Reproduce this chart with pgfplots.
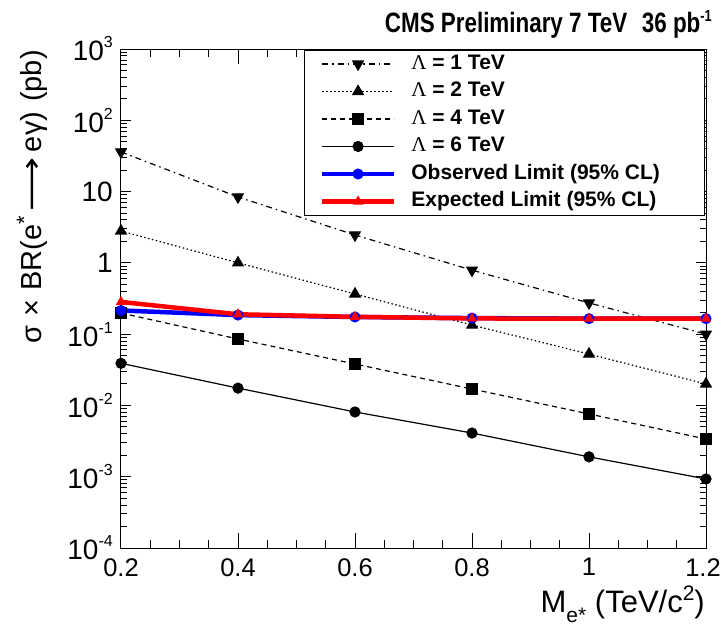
\documentclass[border=0pt]{standalone}
\usepackage{pgfplots}
\pgfplotsset{compat=1.18}
\usepackage{fontspec}
\setmainfont{Liberation Sans}
\newfontfamily\serifL{Liberation Serif}
\newfontfamily\condfont[FakeStretch=0.8]{Liberation Sans}
\newfontfamily\dejavu{DejaVu Sans}
\newcommand\tl[1]{10\raisebox{13pt}{\fontsize{16}{16}\selectfont #1}}
\newcommand\lam{{\serifL\mdseries Λ}}
\begin{document}
\begin{tikzpicture}
\useasboundingbox (-121pt,-77pt) rectangle (601pt,548pt);
\begin{axis}[
  at={(0pt,0pt)}, anchor=south west,
  scale only axis, width=585pt, height=499pt,
  ymode=log, xmin=0.2, xmax=1.2, ymin=1e-4, ymax=1e3,
  clip=false,
  xtick={0.2,0.4,0.6,0.8,1,1.2},
  xticklabels={0.2,0.4,0.6,0.8,1,1.2\kern6pt},
  minor x tick num=3,
  ytick={1e-4,1e-3,1e-2,1e-1,1,10,100,1000},
  yticklabels={\tl{-4},\tl{-3},\tl{-2},\tl{-1},1,10,\tl{2},\tl{3}},
  minor ytick={2e-4,3e-4,4e-4,5e-4,6e-4,7e-4,8e-4,9e-4,
               2e-3,3e-3,4e-3,5e-3,6e-3,7e-3,8e-3,9e-3,
               2e-2,3e-2,4e-2,5e-2,6e-2,7e-2,8e-2,9e-2,
               0.2,0.3,0.4,0.5,0.6,0.7,0.8,0.9,
               2,3,4,5,6,7,8,9,
               20,30,40,50,60,70,80,90,
               200,300,400,500,600,700,800,900},
  tick align=inside, tick pos=both,
  axis line style={line width=1pt},
  tick style={black, line width=1pt},
  xtick style={/pgfplots/major tick length=15pt, /pgfplots/minor tick length=8pt},
  ytick style={/pgfplots/major tick length=10pt, /pgfplots/minor tick length=6pt},
  yticklabel style={font=\fontsize{28}{28}\selectfont, inner sep=0pt, xshift=-8pt},
  xticklabel style={font=\fontsize{25.5}{25.5}\selectfont, inner sep=0pt, yshift=-10pt},
  legend style={at={(0.998,0.998)}, anchor=north east, draw=black, line width=1pt, fill=white,
    inner xsep=15pt, inner ysep=3.5pt, column sep=15pt, row sep=7.5pt,
    font=\fontsize{21}{21}\selectfont\bfseries,
    nodes={inner sep=0pt, text height=15pt, text depth=5pt}},
  legend cell align=left,
  legend image code/.code={\draw[mark repeat=2,mark phase=2,#1] plot coordinates {(0pt,0pt)(36pt,0pt)(72pt,0pt)};},
]
\addplot[black, line width=1.2pt, dash pattern=on 6pt off 4pt on 1.5pt off 4pt, mark=triangle*, mark size=6pt, mark options={solid, rotate=180}]
  coordinates {(0.2,36) (0.4,8.4) (0.6,2.46) (0.8,0.79) (1.0,0.274) (1.2,0.100)};
\addlegendentry{\makebox[278pt][l]{\lam{} = 1 TeV}}
\addplot[black, line width=1.2pt, dash pattern=on 1.5pt off 2.5pt, mark=triangle*, mark size=6pt, mark options={solid}]
  coordinates {(0.2,2.8) (0.4,1.0) (0.6,0.366) (0.8,0.134) (1.0,0.0526) (1.2,0.020)};
\addlegendentry{\makebox[278pt][l]{\lam{} = 2 TeV}}
\addplot[black, line width=1.2pt, dash pattern=on 5pt off 4pt, mark=square*, mark size=5.5pt, mark options={solid}]
  coordinates {(0.2,0.198) (0.4,0.0855) (0.6,0.0381) (0.8,0.017) (1.0,0.0076) (1.2,0.00338)};
\addlegendentry{\makebox[278pt][l]{\lam{} = 4 TeV}}
\addplot[black, line width=1.2pt, mark=*, mark size=5pt]
  coordinates {(0.2,0.039) (0.4,0.0175) (0.6,0.0081) (0.8,0.0041) (1.0,0.0019) (1.2,0.00093)};
\addlegendentry{\makebox[278pt][l]{\lam{} = 6 TeV}}
\addplot[blue, line width=4.5pt, mark=*, mark size=5pt, mark options={line width=1pt}]
  coordinates {(0.2,0.215) (0.4,0.185) (0.6,0.174) (0.8,0.168) (1.0,0.165) (1.2,0.165)};
\addlegendentry{\makebox[278pt][l]{Observed Limit (95\% CL)}}
\addplot[red, line width=4.5pt, mark=triangle*, mark size=5pt, mark options={line width=1pt}]
  coordinates {(0.2,0.283) (0.4,0.190) (0.6,0.175) (0.8,0.166) (1.0,0.165) (1.2,0.165)};
\addlegendentry{\makebox[278pt][l]{Expected Limit (95\% CL)}}
\end{axis}
\node[anchor=base east, inner sep=0pt, font=\condfont\bfseries\fontsize{28}{28}\selectfont] at (591pt,515pt)
  {CMS Preliminary 7 TeV\hspace{0.3em} 36 pb\raisebox{11pt}{\fontsize{16}{16}\selectfont -1}};
\node[rotate=90, anchor=base east, inner sep=0pt, font=\fontsize{29}{29}\selectfont] at (-79pt,498pt)
  {σ\hspace{9pt}×\hspace{9pt}BR(e\raisebox{10pt}{\fontsize{22}{22}\selectfont *}\hspace{5pt}\scalebox{1.3}[1]{\dejavu ⟶}\hspace{5pt}eγ)\hspace{10pt}(pb)};
\node[anchor=base east, inner sep=0pt, font=\fontsize{31}{31}\selectfont] at (584pt,-64pt)
  {M\raisebox{-10pt}{\fontsize{21}{21}\selectfont e*} (TeV/c\raisebox{12pt}{\fontsize{21}{21}\selectfont 2})};
\end{tikzpicture}
\end{document}
